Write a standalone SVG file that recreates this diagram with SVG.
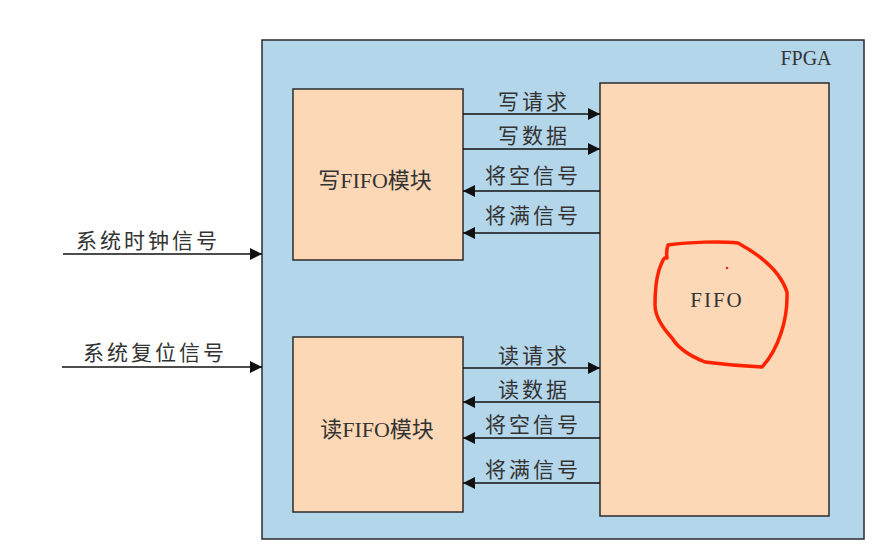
<svg xmlns="http://www.w3.org/2000/svg" width="874" height="549" viewBox="0 0 874 549">
<defs>
<marker id="ah" viewBox="0 0 10 10" refX="10" refY="5" markerWidth="14" markerHeight="12" markerUnits="userSpaceOnUse" orient="auto">
<path d="M0,0 L10,5 L0,10 Z" fill="#111"/>
</marker>
<style>
.box{fill:#fdd8b6;stroke:#2b2b2b;stroke-width:1.5}
.lbl{font-family:"Liberation Serif","Noto Sans CJK SC",serif;font-size:22px;fill:#333;text-anchor:middle}
.sig{font-family:"Noto Sans CJK SC",sans-serif;font-size:21px;fill:#333;text-anchor:middle;letter-spacing:3px}
.ln{stroke:#111;stroke-width:1.6;fill:none;marker-end:url(#ah)}
</style>
</defs>
<rect width="874" height="549" fill="#ffffff"/>
<g id="fpga">
<rect x="262" y="40" width="602" height="499" fill="#b3d6ea" stroke="#2b2b2b" stroke-width="1.5"/>
<text x="806" y="65" class="lbl" style="font-size:20px">FPGA</text>
</g>
<g id="write-module">
<rect class="box" x="293" y="89" width="170" height="171"/>
<text x="375" y="188" class="lbl">写FIFO模块</text>
</g>
<g id="read-module">
<rect class="box" x="293" y="337" width="170" height="175"/>
<text x="377" y="437" class="lbl">读FIFO模块</text>
</g>
<g id="fifo">
<rect class="box" x="600" y="83" width="229" height="433"/>
<text x="717" y="307" class="lbl" style="font-size:21px;letter-spacing:2px">FIFO</text>
</g>
<g id="connectors">
<line class="ln" x1="463" y1="114" x2="600" y2="114"/>
<line class="ln" x1="463" y1="149" x2="600" y2="149"/>
<line class="ln" x1="600" y1="191" x2="463" y2="191"/>
<line class="ln" x1="600" y1="233" x2="463" y2="233"/>
<line class="ln" x1="463" y1="368" x2="600" y2="368"/>
<line class="ln" x1="600" y1="402" x2="463" y2="402"/>
<line class="ln" x1="600" y1="438" x2="463" y2="438"/>
<line class="ln" x1="600" y1="483" x2="463" y2="483"/>
<line class="ln" x1="63" y1="254" x2="262" y2="254"/>
<line class="ln" x1="62" y1="367" x2="262" y2="367"/>
<text x="534" y="109" class="sig">写请求</text>
<text x="534" y="143" class="sig">写数据</text>
<text x="533" y="183" class="sig">将空信号</text>
<text x="533" y="223" class="sig">将满信号</text>
<text x="534" y="363" class="sig">读请求</text>
<text x="534" y="397" class="sig">读数据</text>
<text x="533" y="432" class="sig">将空信号</text>
<text x="533" y="477" class="sig">将满信号</text>
<text x="148" y="248" class="sig">系统时钟信号</text>
<text x="155" y="360" class="sig">系统复位信号</text>
</g>
<g id="annotation">
<path d="M668,245 C690,242 720,241 738,243 C760,255 780,270 787,292 C788,320 778,350 762,367 C740,366 720,364 705,362 C690,356 678,348 672,338 C660,325 655,315 655,305 C655,290 656,280 659,270 C662,262 664,256 667,258 C666,252 667,248 668,245 Z" fill="none" stroke="#ff2200" stroke-width="3.5" stroke-linejoin="round"/>
<circle cx="727" cy="268" r="1.3" fill="#e03020"/>
</g>
</svg>
